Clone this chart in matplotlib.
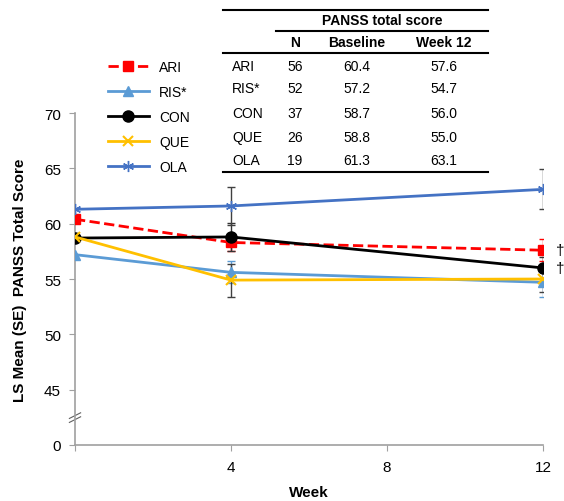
import matplotlib
matplotlib.use("Agg")
import matplotlib.pyplot as plt
from matplotlib.lines import Line2D

plt.rcParams['font.family'] = ['Liberation Sans', 'DejaVu Sans']

# Data
weeks = [0, 4, 12]
groups = ['ARI', 'RIS*', 'CON', 'QUE', 'OLA']
ari = [60.4, 58.3, 57.6]
ris = [57.2, 55.6, 54.7]
con = [58.7, 58.8, 56.0]
que = [58.8, 54.9, 55.0]
ola = [61.3, 61.6, 63.1]
# standard errors at week 4 and week 12 (no bar at baseline)
se_ari = [0.8, 1.0]
se_ris = [1.0, 1.3]
se_con = [1.3, 1.0]
se_que = [1.5, 1.2]
se_ola = [1.7, 1.8]

n_pat = [56, 52, 37, 26, 19]
baseline = ['60.4', '57.2', '58.7', '58.8', '61.3']
week12 = ['57.6', '54.7', '56.0', '55.0', '63.1']

W, H = 564, 502
fig = plt.figure(figsize=(W / 100, H / 100), dpi=100)
ax = fig.add_axes([75 / W, 1 - 446 / H, (543 - 75) / W, (446 - 114) / H])


def px(x, y):
    return x / W, 1 - y / H


styles = [
    (ari, se_ari, dict(color='#ff0000', ls='--', marker='s', ms=7), '#ff0000'),
    (ris, se_ris, dict(color='#5b9bd5', ls='-', marker='^', ms=7), '#5b9bd5'),
    (con, se_con, dict(color='black', ls='-', marker='o', ms=8), '#333333'),
    (que, se_que, dict(color='#ffc000', ls='-', marker='x', ms=7, mew=1.5), '#404040'),
    (ola, se_ola, dict(color='#4472c4', ls='-', marker=(6, 2, 0), ms=8, mew=1), '#404040'),
]

handles = []
for vals, se, st, ecol in styles:
    ax.errorbar(weeks[1:], vals[1:], yerr=se, fmt='none', ecolor=ecol,
                elinewidth=1, capsize=3, capthick=1, zorder=2)
    ln, = ax.plot(weeks, vals, lw=2, zorder=3, **st)
    handles.append(ln)

# daggers at week 12
for vals in (ari, con):
    ax.annotate('\u2020', (weeks[-1], vals[-1]), xytext=(9, 0), textcoords='offset points',
                ha='left', va='center', fontsize=11, annotation_clip=False)

ax.set_xlim(0, 12)
ax.set_ylim(40, 70)
ax.set_xticks([0, 4, 8, 12])
ax.set_xticklabels(['', '4', '8', '12'])
ax.set_yticks([40, 45, 50, 55, 60, 65, 70])
ax.set_yticklabels(['0', '45', '50', '55', '60', '65', '70'])
ax.tick_params(axis='both', direction='out', length=4, color='#a0a0a0', labelsize=11)
ax.tick_params(axis='x', pad=7)
ax.tick_params(axis='y', pad=6)
for s in ('top', 'right'):
    ax.spines[s].set_visible(False)
for s in ('left', 'bottom'):
    ax.spines[s].set_color('#a0a0a0')
    ax.spines[s].set_linewidth(1.2)

# axis break marks
for dy in (0, 0.012):
    ax.plot([-0.012, 0.012], [0.068 + dy, 0.085 + dy], transform=ax.transAxes,
            color='#606060', lw=0.8, clip_on=False)

ax.set_xlabel('Week', fontsize=11, fontweight='bold', labelpad=8)
ax.set_ylabel('LS Mean (SE)  PANSS Total Score', fontsize=11, fontweight='bold', labelpad=12)

fig.legend(handles, groups, loc='upper left', bbox_to_anchor=px(108, 61), frameon=False,
           fontsize=10, handlelength=2.95, handletextpad=0.72, labelspacing=0.79,
           borderpad=0, borderaxespad=0)

# summary table
fs = 10
fig.add_artist(Line2D([223 / W, 488 / W], [px(0, 11)[1]] * 2, color='black', lw=1.5))
fig.add_artist(Line2D([276 / W, 488 / W], [px(0, 32)[1]] * 2, color='black', lw=1.5))
fig.add_artist(Line2D([223 / W, 488 / W], [px(0, 54)[1]] * 2, color='black', lw=1.5))
fig.add_artist(Line2D([223 / W, 488 / W], [px(0, 173)[1]] * 2, color='black', lw=1.5))
fig.text(*px(382, 21), 'PANSS total score', ha='center', va='center', fontsize=fs, fontweight='bold')
fig.text(*px(295, 43), 'N', ha='center', va='center', fontsize=fs, fontweight='bold')
fig.text(*px(357, 43), 'Baseline', ha='center', va='center', fontsize=fs, fontweight='bold')
fig.text(*px(444, 43), 'Week 12', ha='center', va='center', fontsize=fs, fontweight='bold')
row_y = [67, 89, 114, 138, 161]
for i, y in enumerate(row_y):
    fig.text(*px(232, y), groups[i], ha='left', va='center', fontsize=fs)
    fig.text(*px(295, y), str(n_pat[i]), ha='center', va='center', fontsize=fs)
    fig.text(*px(357, y), baseline[i], ha='center', va='center', fontsize=fs)
    fig.text(*px(444, y), week12[i], ha='center', va='center', fontsize=fs)

fig.savefig('out.png', dpi=100)
